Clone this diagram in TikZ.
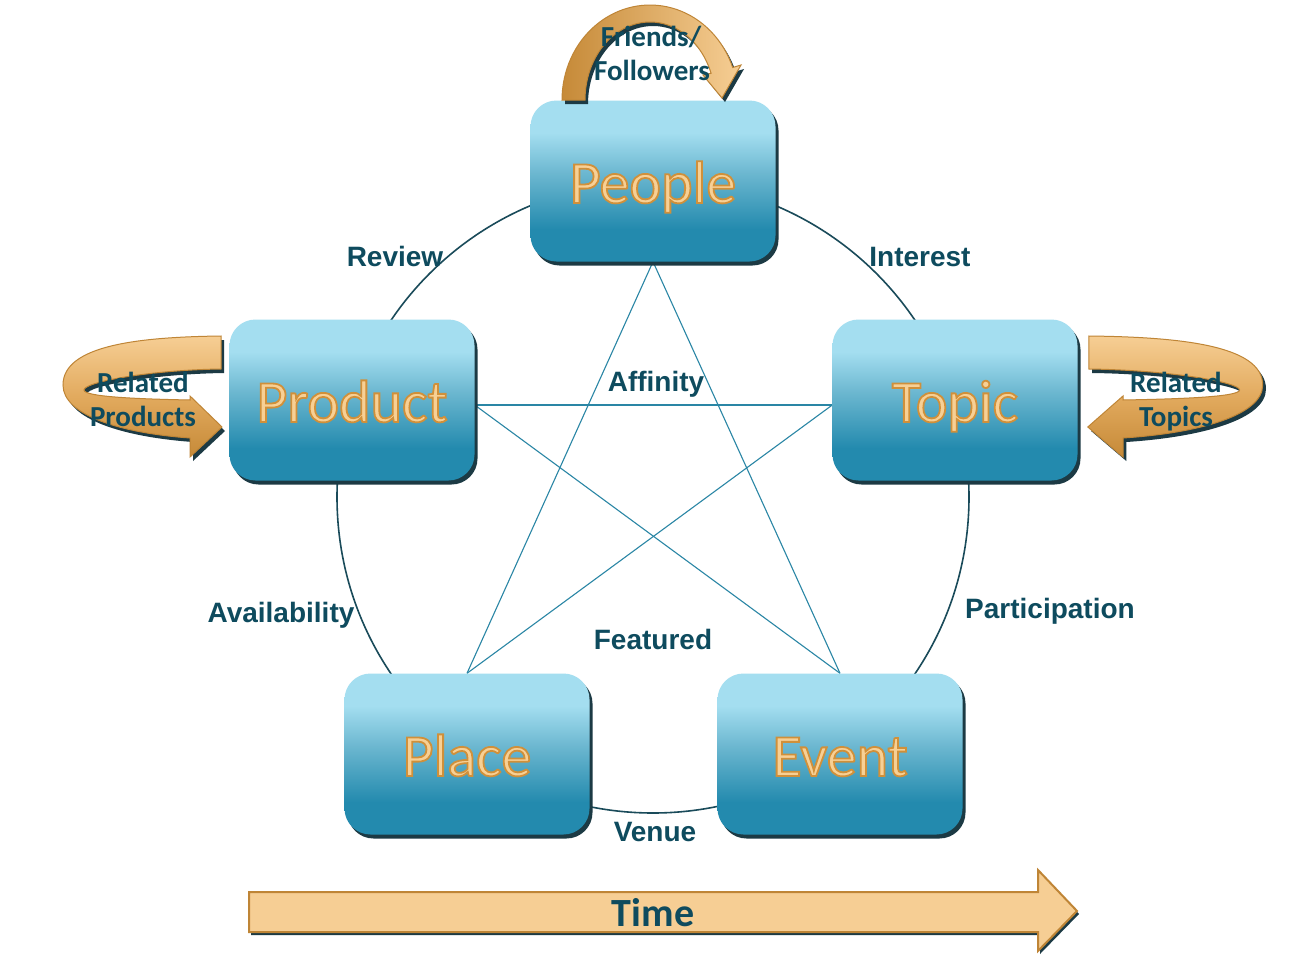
\documentclass[tikz,border=0pt]{standalone}
\usepackage{fontspec}
\usetikzlibrary{shadows}
\newfontfamily\carlito{Carlito}
\newfontfamily\libsans{Liberation Sans}
\definecolor{boxtop}{HTML}{A4DEF0}
\definecolor{boxmid}{HTML}{6AB6CF}
\definecolor{boxbot}{HTML}{238AAE}
\definecolor{shadowcol}{HTML}{1C3A44}
\definecolor{lblcol}{HTML}{0E4B5E}
\definecolor{ringcol}{HTML}{1A4B5A}
\definecolor{starcol}{HTML}{2A86A5}
\definecolor{txtfill}{HTML}{F7D095}
\definecolor{arrlight}{HTML}{F6CE94}
\definecolor{arrmid}{HTML}{E2AA5E}
\definecolor{arrdark}{HTML}{C68A38}
\definecolor{arrline}{HTML}{BF8536}
\pgfdeclareverticalshading{boxshade}{100bp}{color(0bp)=(boxbot); color(35bp)=(boxbot); color(52bp)=(boxmid); color(65bp)=(boxtop); color(100bp)=(boxtop)}
\pgfdeclarelayer{back}
\pgfsetlayers{back,main}
\newcommand\outlinedword[1]{\special{pdf:literal direct 2 Tr 1.8 w 0.816 0.565 0.227 RG}#1\special{pdf:literal direct 0 Tr}}
\begin{document}
\begin{tikzpicture}[x=1pt,y=-1pt,
  box/.style={rounded corners=26pt, minimum width=245pt, minimum height=161pt, inner sep=0pt,
    shade, shading=boxshade,
    drop shadow={shadow xshift=3pt, shadow yshift=-4pt, opacity=1, fill=shadowcol},
    font=\carlito\fontsize{60}{60}\selectfont, text=txtfill, text height=44pt, text depth=0pt},
  lbl/.style={font=\libsans\bfseries\fontsize{28}{30}\selectfont, text=lblcol, anchor=base, inner sep=0pt},
  albl/.style={font=\carlito\bfseries\fontsize{29}{30}\selectfont, text=lblcol, anchor=base, inner sep=0pt},
  tlbl/.style={font=\carlito\bfseries\fontsize{40}{40}\selectfont, text=lblcol, anchor=base, inner sep=0pt},
  starline/.style={draw=starcol, line width=1.1pt},
  shd/.style={fill=shadowcol},
  ribfill/.style={top color=arrlight, bottom color=arrdark, middle color=arrmid, draw=arrline, line width=1pt},
  topfill/.style={left color=arrdark, right color=arrlight, draw=arrline, line width=1pt},
  timefill/.style={fill=arrlight, draw=arrline, line width=2pt}
]
\useasboundingbox (0,0) rectangle (1307,961);

% boxes
\node[box] (people) at (653,181) {\outlinedword{People}};
\node[box] (product) at (352,400) {\outlinedword{Product}};
\node[box] (topic) at (955,400) {\outlinedword{Topic}};
\node[box] (place) at (467,754) {\outlinedword{Place}};
\node[box] (event) at (840,754) {\outlinedword{Event}};

\begin{pgfonlayer}{back}
  \fill[white] (0,0) rectangle (1307,961);
  \node[circle, draw=ringcol, line width=1.6pt, minimum size=632pt, inner sep=0pt] (ring) at (653,497) {};
  \draw[starline] (people.south) -- (place.north);
  \draw[starline] (people.south) -- (event.north);
  \draw[starline] ([yshift=-5pt]product.east) -- ([yshift=-5pt]topic.west);
  \draw[starline] ([yshift=-5pt]product.east) -- (event.north);
  \draw[starline] ([yshift=-5pt]topic.west) -- (place.north);
\end{pgfonlayer}

% relation labels
\node[lbl] (review) at (395,266) {Review};
\node[lbl] (interest) at (920,266) {Interest};
\node[lbl] (affinity) at (656,391) {Affinity};
\node[lbl] (availability) at (281,622) {Availability};
\node[lbl] (participation) at (1050,618) {Participation};
\node[lbl] (featured) at (653,649) {Featured};
\node[lbl] (venue) at (655,841) {Venue};

% top curved arrow
\foreach \dx/\dy/\st in {3/4/shd, 0/0/topfill} {
  \path[\st, shift={(\dx,\dy)}] (562,100)
    -- plot[domain=180:20, samples=50] ({650+88*cos(\x)},{100-95*sin(\x)})
    -- (741,65) -- (722,98) -- (703,75)
    -- plot[domain=20:180, samples=50] ({650+65*cos(\x)},{100-78*sin(\x)})
    -- cycle;
}

% left ribbon
\foreach \dx/\dy/\st in {3/4/shd, 0/0/ribfill} {
  \path[\st, shift={(\dx,\dy)}] (221,336) .. controls (140,337) and (63,345) .. (63,385)
    .. controls (63,415) and (120,433) .. (190,438)
    -- (190,457) -- (222,427) -- (190,396) -- (190,400)
    .. controls (140,399) and (84,397) .. (84,390)
    .. controls (84,382) and (150,370) .. (221,369) -- cycle;
}

% right ribbon (mirrored)
\begin{scope}[shift={(1332,0)}, xscale=-1.1]
\foreach \dx/\dy/\st in {-3/4/shd, 0/0/ribfill} {
  \path[\st, shift={(\dx,\dy)}] (221,336) .. controls (140,337) and (63,345) .. (63,385)
    .. controls (63,415) and (120,433) .. (190,438)
    -- (190,457) -- (222,427) -- (190,396) -- (190,400)
    .. controls (140,399) and (84,397) .. (84,390)
    .. controls (84,382) and (150,370) .. (221,369) -- cycle;
}
\end{scope}

% time arrow
\foreach \dx/\dy/\st in {2/3/shd, 0/0/timefill} {
  \path[\st, shift={(\dx,\dy)}] (249,892) -- (1038,892) -- (1038,870) -- (1077,911)
    -- (1038,951) -- (1038,932) -- (249,932) -- cycle;
}

% arrow labels
\node[albl] (friends) at (651,46) {Friends/};
\node[albl] (followers) at (652,80) {Followers};
\node[albl] (relprod1) at (143,392) {Related};
\node[albl] (relprod2) at (143,426) {Products};
\node[albl] (reltop1) at (1176,392) {Related};
\node[albl] (reltop2) at (1176,426) {Topics};
\node[tlbl] (time) at (653,926) {Time};
\end{tikzpicture}
\end{document}
